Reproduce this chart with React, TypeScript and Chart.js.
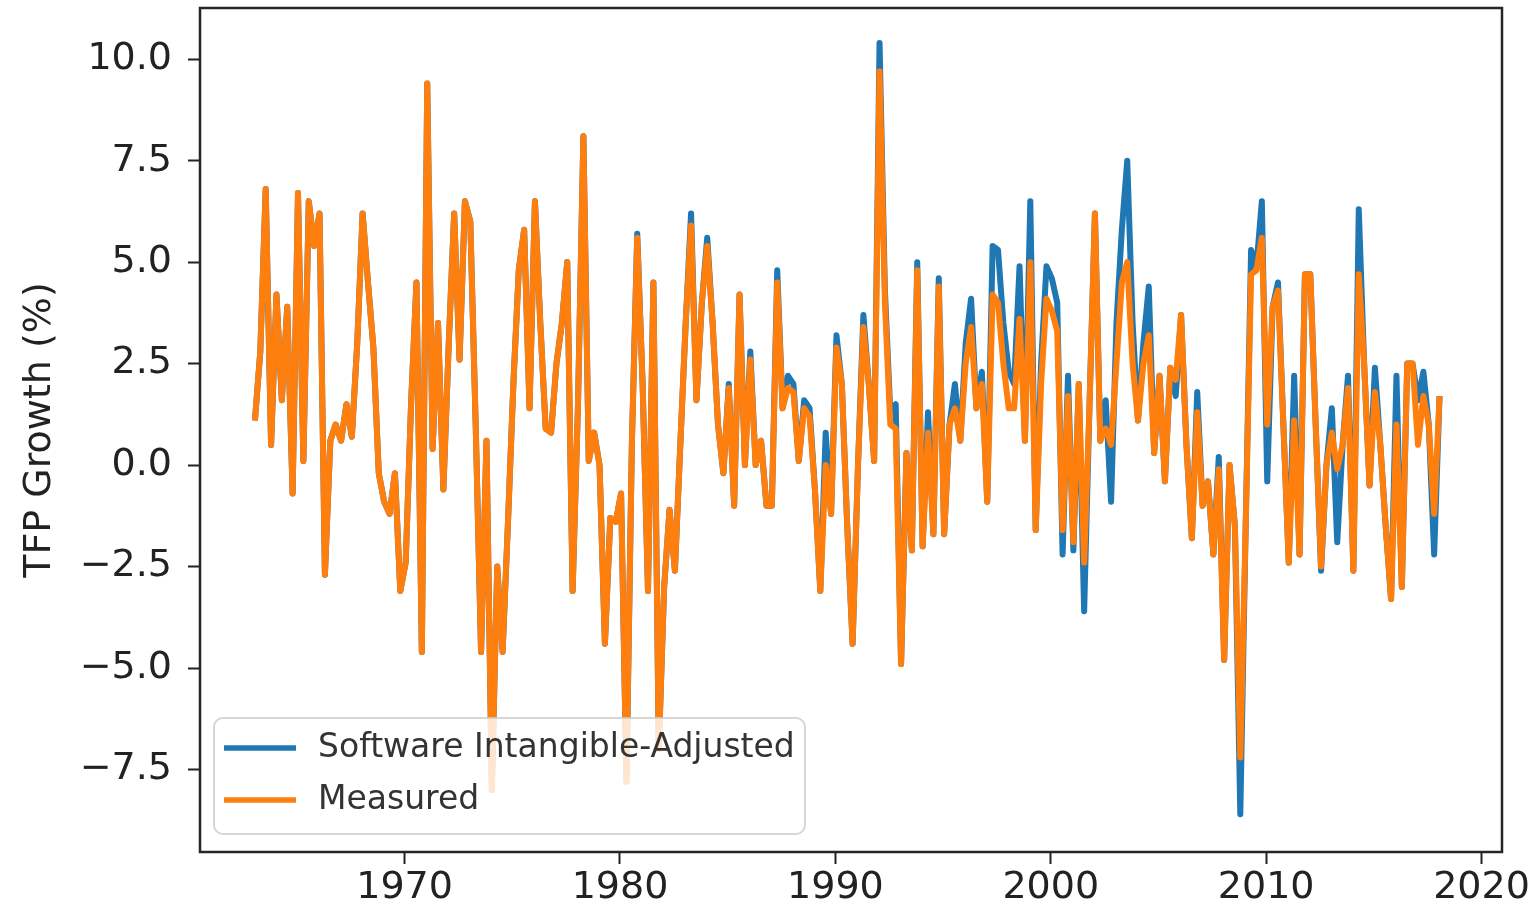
import React, { useEffect, useRef } from "react";
import { Chart, registerables } from "chart.js";

Chart.register(...registerables);

// Quarterly observations, first quarter of 1963 onward
const firstQuarter = 1963.05;
const measured = [
  1.1, 2.8, 6.8, 0.5, 4.2, 1.6, 3.9, -0.7, 6.7, 0.1,
  6.5, 5.4, 6.2, -2.7, 0.6, 1.0, 0.6, 1.5, 0.7, 3.0,
  6.2, 4.5, 2.9, -0.2, -0.9, -1.2, -0.2, -3.1, -2.4, 1.5,
  4.5, -4.6, 9.4, 0.4, 3.5, -0.6, 3.0, 6.2, 2.6, 6.5,
  6.0, 1.0, -4.6, 0.6, -8.0, -2.5, -4.6, -1.4, 2.0, 4.8,
  5.8, 1.4, 6.5, 3.5, 0.9, 0.8, 2.5, 3.5, 5.0, -3.1,
  1.5, 8.1, 0.1, 0.8, 0.0, -4.4, -1.3, -1.4, -0.7, -7.8,
  0.5, 5.6, 2.0, -3.1, 4.5, -7.0, -3.0, -1.1, -2.6, 0.5,
  3.5, 5.9, 1.6, 4.0, 5.4, 3.5, 1.0, -0.2, 1.9, -1.0,
  4.2, 0.0, 2.6, 0.0, 0.6, -1.0, -1.0, 4.5, 1.4, 1.9,
  1.8, 0.1, 1.4, 1.2, -0.6, -3.1, 0.0, -1.2, 2.9, 2.0,
  -1.5, -4.4, 0.0, 3.4, 2.0, 0.1, 9.7, 4.0, 1.0, 0.9,
  -4.9, 0.3, -2.1, 4.8, -2.0, 0.8, -1.7, 4.4, -1.7, 1.0,
  1.4, 0.6, 2.5, 3.4, 1.4, 2.0, -0.9, 4.2, 4.0, 2.5,
  1.4, 1.4, 3.6, 0.6, 5.0, -1.6, 2.0, 4.1, 3.8, 3.3,
  -1.6, 1.7, -1.9, 2.0, -2.4, 1.5, 6.2, 0.6, 0.9, 0.5,
  2.5, 4.5, 5.0, 2.5, 1.1, 2.5, 3.2, 0.3, 2.2, -0.4,
  2.4, 2.1, 3.7, 0.5, -1.8, 1.3, -1.0, -0.4, -2.2, -0.1,
  -4.8, 0.0, -1.5, -7.2, -1.5, 4.7, 4.8, 5.6, 1.0, 3.9,
  4.3, 1.0, -2.4, 1.1, -2.2, 4.7, 4.7, 1.0, -2.5, 0.0,
  0.8, -0.1, 0.5, 1.9, -2.6, 4.7, 2.5, -0.5, 1.8, 0.5,
  -1.5, -3.3, 1.0, -3.0, 2.5, 2.5, 0.5, 1.7, 1.0, -1.2,
  1.7,
];
const adjusted = [
  1.1, 2.8, 6.8, 0.5, 4.2, 1.6, 3.9, -0.7, 6.7, 0.1,
  6.5, 5.4, 6.2, -2.7, 0.6, 1.0, 0.6, 1.5, 0.7, 3.0,
  6.2, 4.5, 2.9, -0.2, -0.9, -1.2, -0.2, -3.1, -2.4, 1.5,
  4.5, -4.6, 9.4, 0.4, 3.5, -0.6, 3.0, 6.2, 2.6, 6.5,
  6.0, 1.0, -4.6, 0.6, -8.0, -2.5, -4.6, -1.4, 2.0, 4.8,
  5.8, 1.4, 6.5, 3.5, 0.9, 0.8, 2.5, 3.5, 5.0, -3.1,
  1.5, 8.1, 0.1, 0.8, 0.0, -4.4, -1.3, -1.4, -0.7, -7.8,
  0.5, 5.7, 2.0, -3.1, 4.5, -7.0, -3.0, -1.1, -2.6, 0.5,
  3.5, 6.2, 1.6, 4.0, 5.6, 3.5, 1.0, -0.2, 2.0, -1.0,
  4.2, 0.0, 2.8, 0.0, 0.6, -1.0, -1.0, 4.8, 1.4, 2.2,
  2.0, 0.1, 1.6, 1.4, -0.6, -3.1, 0.8, -1.2, 3.2, 2.0,
  -1.5, -4.4, 0.0, 3.7, 2.0, 0.1, 10.4, 4.3, 1.3, 1.5,
  -4.9, 0.3, -2.1, 5.0, -2.0, 1.3, -1.7, 4.6, -1.7, 1.0,
  2.0, 0.6, 3.0, 4.1, 1.4, 2.3, -0.9, 5.4, 5.3, 3.5,
  2.3, 2.0, 4.9, 0.6, 6.5, -1.6, 2.5, 4.9, 4.6, 4.0,
  -2.2, 2.2, -2.1, 2.0, -3.6, 1.5, 6.2, 0.6, 1.6, -0.9,
  3.5, 5.8, 7.5, 3.5, 1.1, 3.0, 4.4, 0.3, 2.2, -0.4,
  2.4, 1.7, 3.7, 0.5, -1.8, 1.8, -1.0, -0.4, -2.2, 0.2,
  -4.8, 0.0, -1.5, -8.6, -1.5, 5.3, 4.9, 6.5, -0.4, 3.9,
  4.5, 1.0, -2.4, 2.2, -2.2, 4.7, 4.7, 1.0, -2.6, 0.0,
  1.4, -1.9, 0.5, 2.2, -2.6, 6.3, 2.5, -0.5, 2.4, 0.5,
  -1.5, -3.3, 2.2, -3.0, 2.5, 2.5, 1.6, 2.3, 1.0, -2.2,
  1.7,
];
const quarters = measured.map((_, i) => firstQuarter + i * 0.25);
const xTicks = [1970, 1980, 1990, 2000, 2010, 2020];
const yTicks = [-7.5, -5.0, -2.5, 0.0, 2.5, 5.0, 7.5, 10.0];
const seriesLabels = ["Software Intangible-Adjusted", "Measured"];
const yTitle = "TFP Growth (%)";

const FONT = "'DejaVu Sans', sans-serif";
const BLUE = "#1f77b4";
const ORANGE = "#ff7f0e";
const INK = "#222222";

const framePlugin = {
  id: "frame",
  afterDatasetsDraw(chart: any) {
    const { ctx, chartArea: a } = chart;
    ctx.save();
    ctx.strokeStyle = "#262626";
    ctx.lineWidth = 2.5;
    ctx.strokeRect(a.left, a.top, a.right - a.left, a.bottom - a.top);
    ctx.restore();
  },
};

const legendPlugin = {
  id: "boxLegend",
  afterDraw(chart: any) {
    const { ctx } = chart;
    const x = 214, y = 718, w = 591, h = 116, r = 9;
    ctx.save();
    ctx.beginPath();
    ctx.moveTo(x + r, y);
    ctx.arcTo(x + w, y, x + w, y + h, r);
    ctx.arcTo(x + w, y + h, x, y + h, r);
    ctx.arcTo(x, y + h, x, y, r);
    ctx.arcTo(x, y, x + w, y, r);
    ctx.closePath();
    ctx.fillStyle = "rgba(255,255,255,0.8)";
    ctx.fill();
    ctx.strokeStyle = "rgba(204,204,204,0.8)";
    ctx.lineWidth = 2;
    ctx.stroke();
    const rows = [748, 800];
    chart.data.datasets.forEach((ds: any, i: number) => {
      const ry = rows[i];
      ctx.beginPath();
      ctx.moveTo(224, ry);
      ctx.lineTo(296, ry);
      ctx.strokeStyle = ds.borderColor;
      ctx.lineWidth = 5.5;
      ctx.lineCap = "butt";
      ctx.stroke();
      ctx.fillStyle = "#333333";
      ctx.font = `33px ${FONT}`;
      ctx.textBaseline = "middle";
      ctx.textAlign = "left";
      ctx.fillText(ds.label, 318, ry);
    });
    ctx.restore();
  },
};

const zeroPad = (s: any) => {
  s.paddingTop = 0;
  s.paddingBottom = 0;
  s.paddingLeft = 0;
  s.paddingRight = 0;
};

export default function App() {
  const ref = useRef<HTMLCanvasElement>(null);
  useEffect(() => {
    const fmtY = (v: number) => v.toFixed(1).replace("-", "\u2212");
    const chart = new Chart(ref.current as HTMLCanvasElement, {
      type: "line",
      data: {
        datasets: [
          {
            label: seriesLabels[0],
            data: quarters.map((q, i) => ({ x: q, y: adjusted[i] })),
            borderColor: BLUE,
            backgroundColor: BLUE,
            borderWidth: 6,
            pointRadius: 0,
            tension: 0,
            borderJoinStyle: "round",
            order: 2,
          },
          {
            label: seriesLabels[1],
            data: quarters.map((q, i) => ({ x: q, y: measured[i] })),
            borderColor: ORANGE,
            backgroundColor: ORANGE,
            borderWidth: 6,
            pointRadius: 0,
            tension: 0,
            borderJoinStyle: "round",
            order: 1,
          },
        ],
      },
      options: {
        animation: false,
        responsive: false,
        devicePixelRatio: 1,
        layout: { padding: { left: 0, top: 8, right: 34, bottom: 0 } },
        plugins: { legend: { display: false }, tooltip: { enabled: false } },
        events: [],
        scales: {
          x: {
            type: "linear",
            min: 1960.5,
            max: 2020.95,
            afterBuildTicks: (s: any) => {
              s.ticks = xTicks.map((v) => ({ value: v }));
            },
            afterFit: (s: any) => {
              s.height = 60;
              zeroPad(s);
            },
            grid: {
              drawOnChartArea: false,
              drawTicks: true,
              tickLength: 12,
              tickColor: INK,
              tickWidth: 2,
            },
            border: { display: false },
            ticks: {
              font: { family: FONT, size: 38 },
              color: INK,
              padding: 1,
              maxRotation: 0,
              autoSkip: false,
              callback: (v: any) => String(v),
            },
          },
          y: {
            type: "linear",
            min: -9.53,
            max: 11.26,
            afterBuildTicks: (s: any) => {
              s.ticks = yTicks.map((v) => ({ value: v }));
            },
            afterFit: (s: any) => {
              s.width = 200;
              zeroPad(s);
            },
            grid: {
              drawOnChartArea: false,
              drawTicks: true,
              tickLength: 12,
              tickColor: INK,
              tickWidth: 2,
            },
            border: { display: false },
            ticks: {
              font: { family: FONT, size: 38 },
              color: INK,
              padding: 16,
              autoSkip: false,
              callback: (v: any) => fmtY(Number(v)),
            },
            title: {
              display: true,
              text: yTitle,
              font: { family: FONT, size: 38 },
              color: INK,
              padding: { top: 17, bottom: 0 },
            },
          },
        },
      },
      plugins: [framePlugin, legendPlugin],
    } as any);
    return () => chart.destroy();
  }, []);
  return (
    <div
      style={{
        position: "absolute",
        left: 0,
        top: 0,
        width: 1536,
        height: 912,
        background: "#ffffff",
      }}
    >
      <canvas
        ref={ref}
        width={1536}
        height={912}
        style={{ display: "block", width: 1536, height: 912 }}
      />
    </div>
  );
}
